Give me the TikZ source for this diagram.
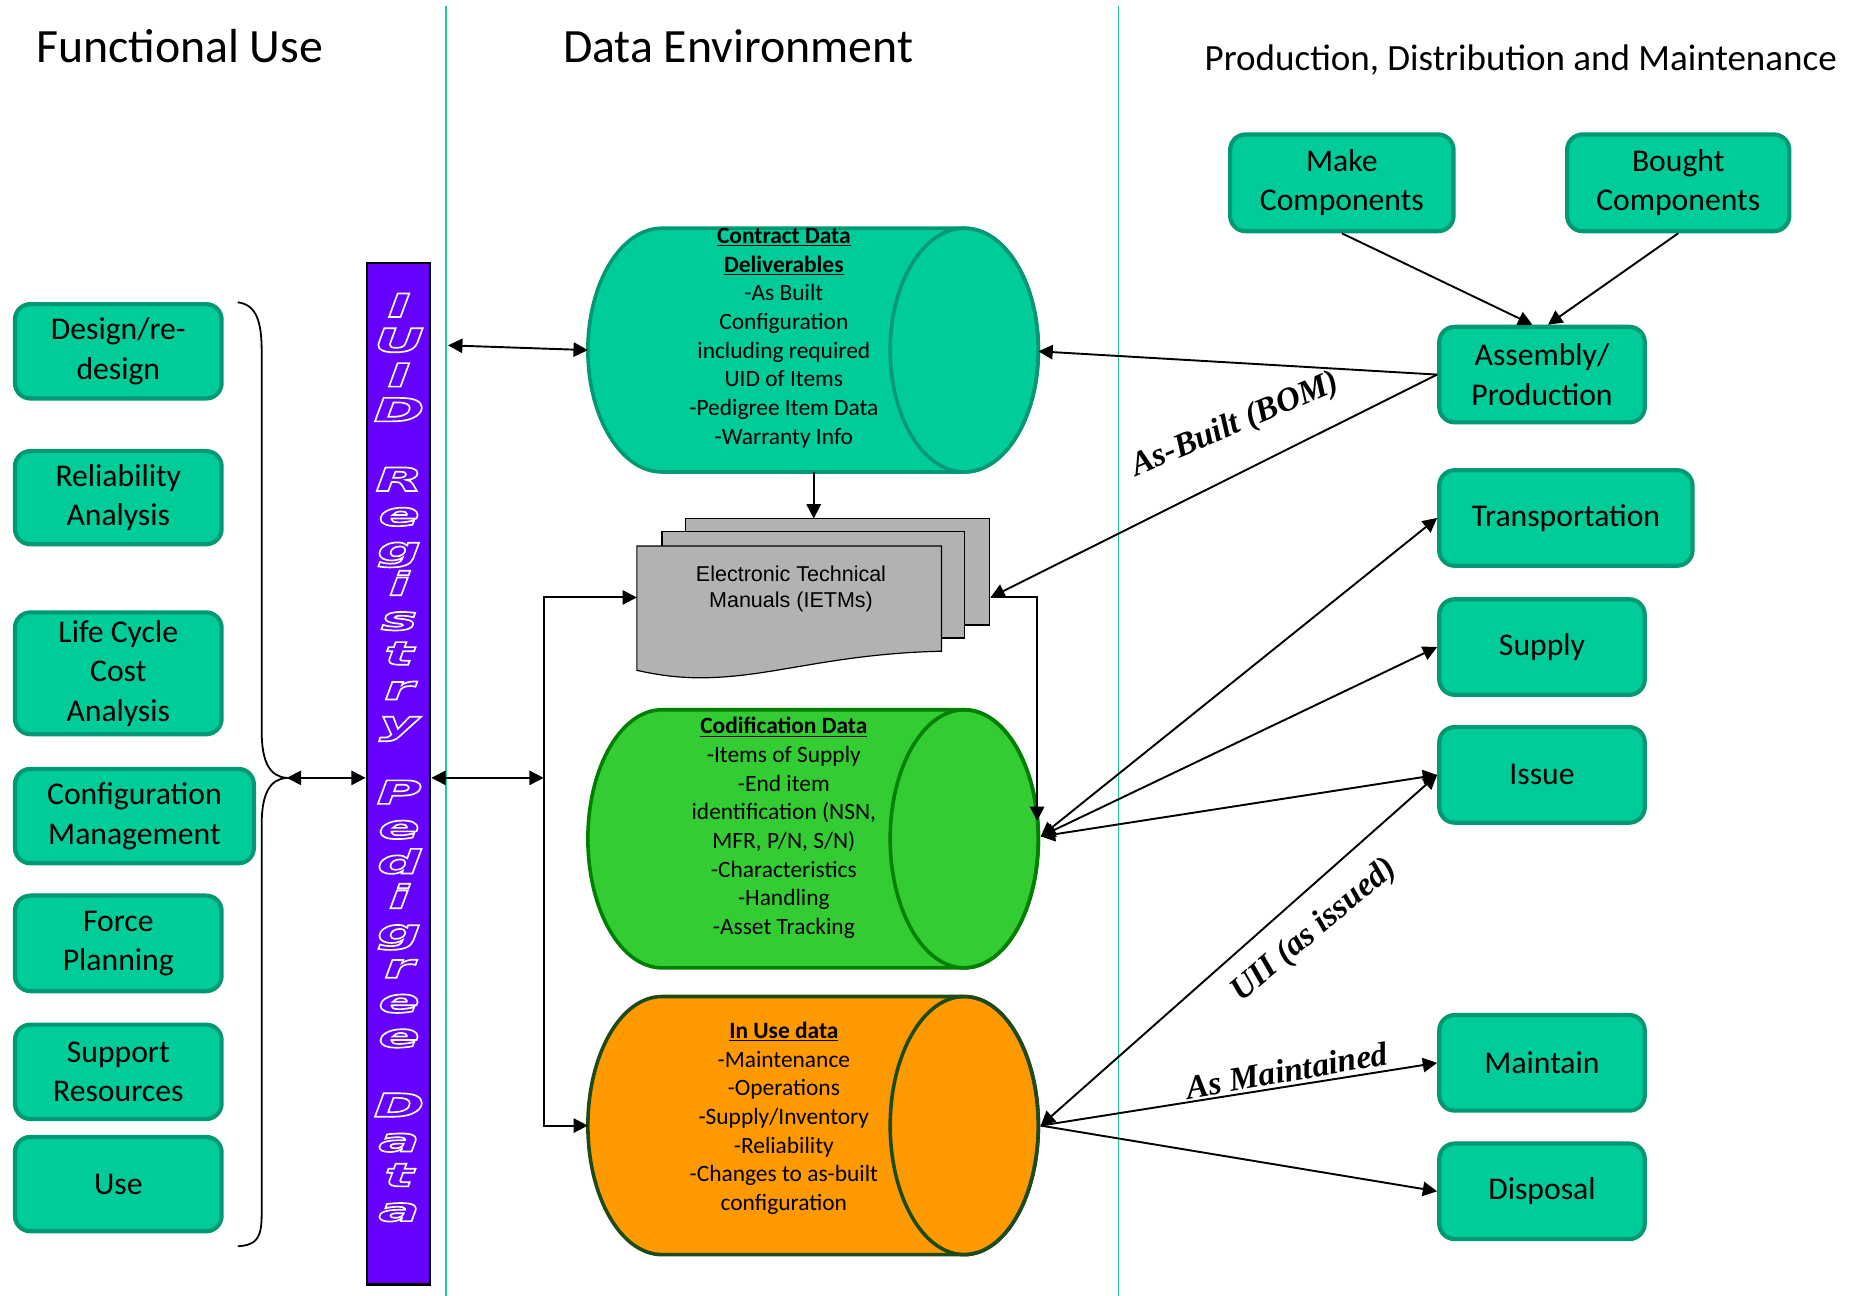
\documentclass[tikz,border=0pt]{standalone}
\usepackage{fontspec}
\setmainfont{Carlito}
\newfontfamily\arialf{Liberation Sans}
\newfontfamily\timesf{Liberation Serif}
\newfontfamily\iuidf{DejaVu Sans}[FakeStretch=1.9]
\usetikzlibrary{arrows.meta}
\definecolor{tealfill}{HTML}{00CC99}
\definecolor{tealdraw}{HTML}{009973}
\definecolor{sepline}{HTML}{20C8A0}
\definecolor{codfill}{HTML}{33CC33}
\definecolor{coddraw}{HTML}{008000}
\definecolor{usefill}{HTML}{FF9900}
\definecolor{usedraw}{HTML}{1E4B14}
\definecolor{barfill}{HTML}{6600FF}
\definecolor{etmgray}{HTML}{B2B2B2}
\newcommand\outlineon{\special{pdf:literal direct 1 Tr 1.4 w}}
\newcommand\outlineoff{\special{pdf:literal direct 0 Tr}}
\newcommand\drawcyl[4]{%
  \pgfmathsetmacro\cyc{(#1+#2)/2}%
  \pgfmathsetmacro\cyr{(#2-#1)/2}%
  \pgfmathsetmacro\cyk{0.5523*(#2-#1)/2}%
  \draw[fill=#3, draw=#4, line width=3pt] (554,#1) -- (807,#1)
    .. controls (841.24,#1) and (869,\cyc-\cyk) .. (869,\cyc)
    .. controls (869,\cyc+\cyk) and (841.24,#2) .. (807,#2) -- (554,#2)
    .. controls (519.76,#2) and (492,\cyc+\cyk) .. (492,\cyc)
    .. controls (492,\cyc-\cyk) and (519.76,#1) .. (554,#1) -- cycle;
  \draw[draw=#4, line width=3pt] (807,\cyc) ellipse [x radius=62pt, y radius=\cyr pt];
}
\begin{document}
\begin{tikzpicture}[x=1pt,y=-1pt,
  box/.style={draw=tealdraw, fill=tealfill, line width=3.5pt, rounded corners=13pt,
    align=center, font=\fontsize{26.5}{33}\selectfont, inner sep=0pt},
  cyltext/.style={align=center, font=\fontsize{19.6}{24}\selectfont, inner sep=0pt},
  conn/.style={line width=1.6pt, -{Triangle[length=12pt,width=12pt]}},
  conn2/.style={line width=1.6pt, {Triangle[length=12pt,width=12pt]}-{Triangle[length=12pt,width=12pt]}},
  lbl/.style={font=\timesf\bfseries\itshape\fontsize{28}{30}\selectfont, inner sep=0pt},
  title/.style={font=\fontsize{40}{48}\selectfont, inner sep=0pt, anchor=base west},
]
\useasboundingbox (0,0) rectangle (1560,1084.6);

% separators
\draw[sepline, line width=1.5pt] (373,5) -- (373,1085);
\draw[sepline, line width=1.5pt] (936,5) -- (936,1085);

% titles
\node[title] (t1) at (30,52) {Functional Use};
\node[title] (t2) at (471,52) {Data Environment};
\node[title, font=\fontsize{31}{36}\selectfont] (t3) at (1008,59) {Production, Distribution and Maintenance};

% left boxes
\node[box, minimum width=173pt, minimum height=79pt] (design) at (99,294) {Design/re-\\design};
\node[box, minimum width=173pt, minimum height=78pt] (reliab) at (99,416.5) {Reliability\\Analysis};
\node[box, minimum width=173pt, minimum height=102pt] (lcc) at (99,563.5) {Life Cycle\\Cost\\Analysis};
\node[box, minimum width=200pt, minimum height=79pt] (config) at (112.5,683) {Configuration\\Management};
\node[box, minimum width=173pt, minimum height=80pt] (force) at (99,789.5) {Force\\Planning};
\node[box, minimum width=173pt, minimum height=79pt] (support) at (99,897) {Support\\Resources};
\node[box, minimum width=173pt, minimum height=79pt] (use) at (99,991) {Use};

% brace
\coordinate (bracetip) at (240,651);
\draw[line width=1.5pt] (199,253) .. controls (215,255) and (219,270) .. (219,294) -- (219,612)
  .. controls (219,638) and (226,650) .. (bracetip)
  .. controls (226,652) and (219,664) .. (219,690) -- (219,1016)
  .. controls (219,1036) and (215,1042) .. (199,1043);

% purple bar
\node[draw=black, fill=barfill, line width=2pt, minimum width=53pt, minimum height=855pt, inner sep=0pt] (bar) at (333.5,647.5) {};
\node[font=\iuidf\bfseries\itshape\fontsize{27}{29.1}\selectfont, text=white, align=center, inner sep=0pt] (bartext) at (334,634)
  {\outlineon I\\U\\I\\D\\\mbox{}\\R\\e\\g\\i\\s\\t\\r\\y\\\mbox{}\\P\\e\\d\\i\\g\\r\\e\\e\\\mbox{}\\D\\a\\t\\a\outlineoff};

\draw[conn2] (bracetip) -- (bracetip -| bar.west);

% cylinders
\drawcyl{191}{395}{tealfill}{tealdraw}
\drawcyl{594}{810}{codfill}{coddraw}
\drawcyl{834}{1050}{usefill}{usedraw}

\node[cyltext] (contract) at (656,283) {\underline{\textbf{Contract Data}}\\\underline{\textbf{Deliverables}}\\-As Built\\Configuration\\including required\\UID of Items\\-Pedigree Item Data\\-Warranty Info};
\node[cyltext] (codif) at (656,693) {\underline{\textbf{Codification Data}}\\-Items of Supply\\-End item\\identification (NSN,\\MFR, P/N, S/N)\\-Characteristics\\-Handling\\-Asset Tracking};
\node[cyltext] (inuse) at (656,936) {\underline{\textbf{In Use data}}\\-Maintenance\\-Operations\\-Supply/Inventory\\-Reliability\\-Changes to as-built\\configuration};

\coordinate (contractL) at (492,293);
\coordinate (contractR) at (869,294);
\coordinate (contractB) at (681,395);
\coordinate (codR) at (871,700);
\coordinate (codTop) at (868,687);
\coordinate (inuseL) at (492,942);
\coordinate (inuseR) at (871,942);

% ETM document stack
\draw[fill=etmgray, line width=1pt] (574,434) rectangle (828,523);
\draw[fill=etmgray, line width=1pt] (554,445) rectangle (807,534);
\draw[fill=etmgray, line width=1pt] (533,457) -- (788,457) -- (788,545)
  .. controls (700,547) and (650,565) .. (597,567)
  .. controls (575,568) and (555,566) .. (533,561) -- cycle;
\node[font=\arialf\fontsize{18}{22}\selectfont, align=center, inner sep=0pt] (etm) at (662,493) {Electronic Technical\\Manuals (IETMs)};
\coordinate (etmTop) at (681,434);
\coordinate (etmR) at (829,500);
\coordinate (etmL) at (533,500);

% bus on the left of data environment
\coordinate (sepA) at (375,289);
\coordinate (busTop) at (455,500);
\coordinate (busBot) at (455,942);
\coordinate (busMid) at (455,651);
\draw[conn2] (etmL) -- (busTop) -- (busBot) -- (inuseL);
\draw[conn2] (bar.east |- busMid) -- (busMid);
\draw[conn2] (sepA) -- (contractL);
\draw[conn] (contractB) -- (etmTop);

% right boxes
\node[box, minimum width=187pt, minimum height=81pt] (make) at (1123,153) {Make\\Components};
\node[box, minimum width=186pt, minimum height=81pt] (bought) at (1404.5,153) {Bought\\Components};
\node[box, minimum width=172pt, minimum height=80pt] (assembly) at (1290.5,313.5) {Assembly/\\Production};
\node[box, minimum width=212pt, minimum height=80pt] (transport) at (1310.5,433.5) {Transportation};
\node[box, minimum width=172pt, minimum height=80pt] (supply) at (1290.5,541.5) {Supply};
\node[box, minimum width=172pt, minimum height=80pt] (issue) at (1290.5,648.5) {Issue};
\node[box, minimum width=172pt, minimum height=80pt] (maintain) at (1290.5,889.5) {Maintain};
\node[box, minimum width=172pt, minimum height=80pt] (disposal) at (1290.5,997) {Disposal};

% connectors on the right
\draw[conn] (make.south) -- ([xshift=-8pt]assembly.north);
\draw[conn] (bought.south) -- ([xshift=5pt]assembly.north);
\draw[conn] (assembly.west) -- (contractR);
\draw[conn] (assembly.west) -- (etmR);
\draw[conn] (etmR) -- (etmR -| codTop) -- (codTop);
\draw[conn2] (codR) -- (transport.west);
\draw[conn2] (codR) -- (supply.west);
\draw[conn2] (codR) -- (issue.west);
\draw[conn2] (inuseR) -- (issue.west);
\draw[conn] (inuseR) -- (maintain.west);
\draw[conn] (inuseR) -- (disposal.west);

% labels
\node[lbl, rotate=23] (asbuilt) at (1034,356) {As-Built (BOM)};
\node[lbl, rotate=40] (uii) at (1100,779) {UII (as issued)};
\node[lbl, rotate=10] (asmaint) at (1077,896) {As Maintained};
\end{tikzpicture}
\end{document}
